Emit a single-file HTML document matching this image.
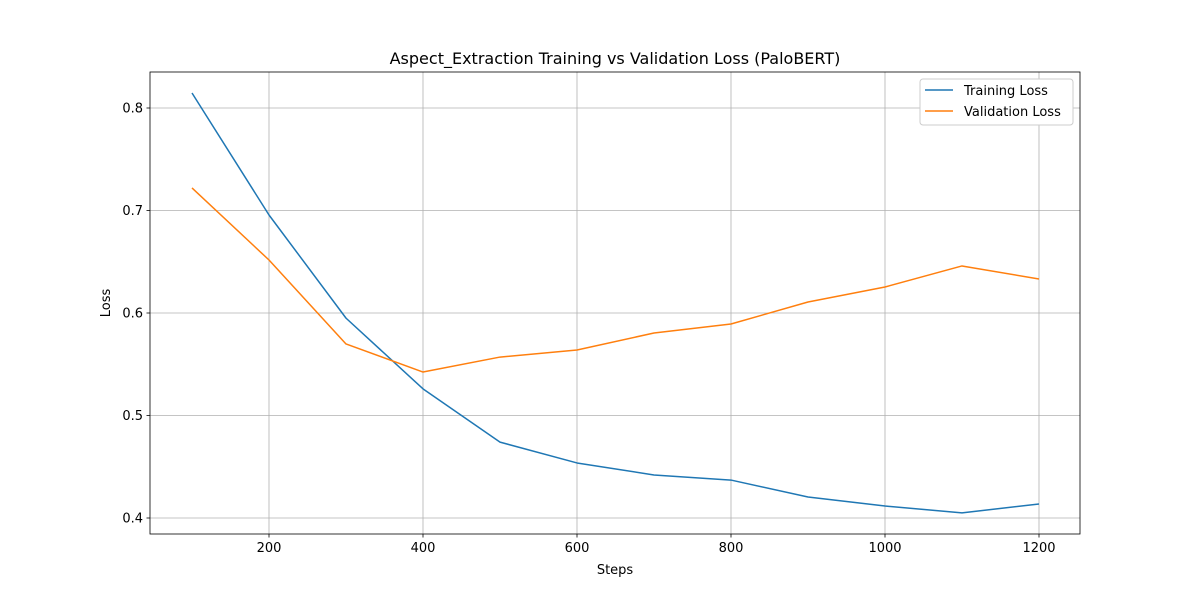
<!DOCTYPE html>
<html><head><meta charset="utf-8">
<style>
html,body{margin:0;padding:0;background:#fff;}
svg{display:block;font-family:"DejaVu Sans","Liberation Sans",sans-serif;}
</style></head>
<body>
<svg id="chart" width="1200" height="600"></svg>
<script>
const steps = [100,200,300,400,500,600,700,800,900,1000,1100,1200];
const trainingLoss = [0.8146,0.6956,0.595,0.526,0.474,0.4537,0.442,0.437,0.4205,0.4117,0.405,0.4137];
const validationLoss = [0.722,0.6517,0.5698,0.5424,0.557,0.5639,0.5805,0.5893,0.6107,0.6254,0.6459,0.6332];
const xTicks = [200,400,600,800,1000,1200];
const yTicks = [0.4,0.5,0.6,0.7,0.8];

const L=150,R=1080,T=72,B=534;
const x = v => 192 + (v-100)*0.77;
const y = v => 518 - (v-0.4)*1025;
const NS='http://www.w3.org/2000/svg';
const svg=document.getElementById('chart');
function mk(tag,attrs,parent){const e=document.createElementNS(NS,tag);for(const k in attrs)e.setAttribute(k,attrs[k]);(parent||svg).appendChild(e);return e;}

// grid
xTicks.forEach(t=>{
  const g=mk('line',{x1:x(t),x2:x(t),y1:T,y2:B,stroke:'#b0b0b0','stroke-width':0.8});
  
  
  mk('line',{x1:x(t),x2:x(t),y1:B,y2:B+3.5,stroke:'#000','stroke-width':0.8});
  const tx=mk('text',{x:x(t),y:B+18,'text-anchor':'middle','font-size':13,fill:'#000'});
  tx.textContent=t;
  
  
});
yTicks.forEach(t=>{
  const g=mk('line',{x1:L,x2:R,y1:y(t),y2:y(t),stroke:'#b0b0b0','stroke-width':0.8});
  
  
  mk('line',{x1:L-3.5,x2:L,y1:y(t),y2:y(t),stroke:'#000','stroke-width':0.8});
  const tx=mk('text',{x:L-7,y:y(t)+4.5,'text-anchor':'end','font-size':13,fill:'#000'});
  tx.textContent=t.toFixed(1);
  
  
});

function series(vals,color,name){
  const p=mk('polyline',{points:steps.map((s,i)=>x(s)+','+y(vals[i])).join(' '),fill:'none',stroke:color,'stroke-width':1.5,'stroke-linejoin':'round'});
  
  
}
series(trainingLoss,'#1f77b4','training-loss-line');
series(validationLoss,'#ff7f0e','validation-loss-line');

// frame
const fr=mk('rect',{x:L,y:T,width:R-L,height:B-T,fill:'none',stroke:'#000','stroke-width':0.8});



// title & labels
const ti=mk('text',{x:615,y:64,'text-anchor':'middle','font-size':16});
ti.textContent='Aspect_Extraction Training vs Validation Loss (PaloBERT)';


const xl=mk('text',{x:615,y:574,'text-anchor':'middle','font-size':13});
xl.textContent='Steps';


const yl=mk('text',{x:110,y:303,'text-anchor':'middle','font-size':13,transform:'rotate(-90 110 303)'});
yl.textContent='Loss';



// legend
const lg=mk('g',{});


mk('rect',{x:920,y:79,width:153,height:46,rx:3,fill:'#fff',stroke:'#ccc','stroke-width':1},lg);
[['Training Loss','#1f77b4',90],['Validation Loss','#ff7f0e',111]].forEach(([t,c,yy])=>{
  mk('line',{x1:925,x2:953,y1:yy,y2:yy,stroke:c,'stroke-width':1.5},lg);
  const e=mk('text',{x:964,y:yy+5,'font-size':13},lg);
  e.textContent=t;
  
  
});
</script>
</body></html>
